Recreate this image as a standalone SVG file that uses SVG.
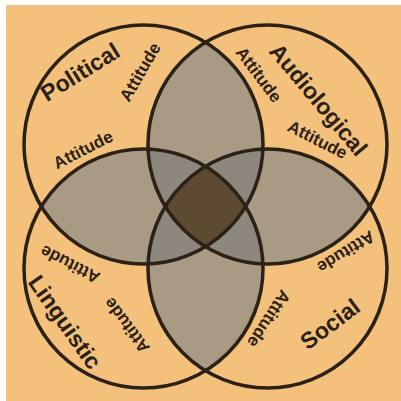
<svg xmlns="http://www.w3.org/2000/svg" width="401" height="401" viewBox="0 0 401 401">
<style>
.ring{fill:none;stroke:#2b2117;stroke-width:3.5}
.lbl{font-family:"Liberation Sans",Arial,sans-serif;font-weight:bold;fill:#2b2117;text-anchor:middle}
.big{font-size:23px}
.att{font-size:17px}
.a2{fill:#a99b83}
.a3{fill:#8d877e}
.a4{fill:#5d4a31}
</style>
<defs>
<clipPath id="cTL"><circle cx="143.5" cy="144.5" r="119.5"/></clipPath>
<clipPath id="cTR"><circle cx="267.5" cy="144.5" r="119.5"/></clipPath>
<clipPath id="cBL"><circle cx="143.5" cy="268.5" r="119.5"/></clipPath>
<clipPath id="cBR"><circle cx="267.5" cy="268.5" r="119.5"/></clipPath>
</defs>
<rect x="0" y="0" width="401" height="401" fill="#ffffff"/>
<rect x="6" y="5" width="395" height="396" fill="#f4c17d"/>
<g id="overlaps">
<circle class="a2" cx="267.5" cy="144.5" r="119.5" clip-path="url(#cTL)"/>
<circle class="a2" cx="143.5" cy="268.5" r="119.5" clip-path="url(#cTL)"/>
<circle class="a2" cx="267.5" cy="268.5" r="119.5" clip-path="url(#cTL)"/>
<circle class="a2" cx="143.5" cy="268.5" r="119.5" clip-path="url(#cTR)"/>
<circle class="a2" cx="267.5" cy="268.5" r="119.5" clip-path="url(#cTR)"/>
<circle class="a2" cx="267.5" cy="268.5" r="119.5" clip-path="url(#cBL)"/>
<g clip-path="url(#cTL)"><circle class="a3" cx="267.5" cy="144.5" r="119.5" clip-path="url(#cBL)"/></g>
<g clip-path="url(#cTL)"><circle class="a3" cx="267.5" cy="144.5" r="119.5" clip-path="url(#cBR)"/></g>
<g clip-path="url(#cTL)"><circle class="a3" cx="143.5" cy="268.5" r="119.5" clip-path="url(#cBR)"/></g>
<g clip-path="url(#cTR)"><circle class="a3" cx="143.5" cy="268.5" r="119.5" clip-path="url(#cBR)"/></g>
<g clip-path="url(#cTL)"><g clip-path="url(#cTR)"><circle class="a4" cx="143.5" cy="268.5" r="119.5" clip-path="url(#cBR)"/></g></g>
</g>
<g id="political">
<circle class="ring" cx="143.5" cy="144.5" r="119.5"/>
<text class="lbl big" dy="0.35em" transform="translate(80,72) rotate(-32)">Political</text>
<text class="lbl att" dy="0.35em" transform="translate(140,72) rotate(-60)">Attitude</text>
<text class="lbl att" dy="0.35em" transform="translate(83,149.5) rotate(-27)">Attitude</text>
</g>
<g id="audiological">
<circle class="ring" cx="267.5" cy="144.5" r="119.5"/>
<text class="lbl big" dy="0.35em" transform="translate(318.5,99.5) rotate(50)">Audiological</text>
<text class="lbl att" dy="0.35em" transform="translate(259,74.5) rotate(53)">Attitude</text>
<text class="lbl att" dy="0.35em" transform="translate(317.5,139.5) rotate(27)">Attitude</text>
</g>
<g id="linguistic">
<circle class="ring" cx="143.5" cy="268.5" r="119.5"/>
<text class="lbl big" dy="0.35em" transform="translate(65,322) rotate(55)">Linguistic</text>
<text class="lbl att" dy="0.35em" transform="translate(70,264.5) rotate(207)">Attitude</text>
<text class="lbl att" dy="0.35em" transform="translate(126.5,325.5) rotate(233)">Attitude</text>
</g>
<g id="social">
<circle class="ring" cx="267.5" cy="268.5" r="119.5"/>
<text class="lbl big" dy="0.35em" transform="translate(330,324) rotate(-37)">Social</text>
<text class="lbl att" dy="0.35em" transform="translate(346,252) rotate(148)">Attitude</text>
<text class="lbl att" dy="0.35em" transform="translate(269,319) rotate(123)">Attitude</text>
</g>
</svg>
